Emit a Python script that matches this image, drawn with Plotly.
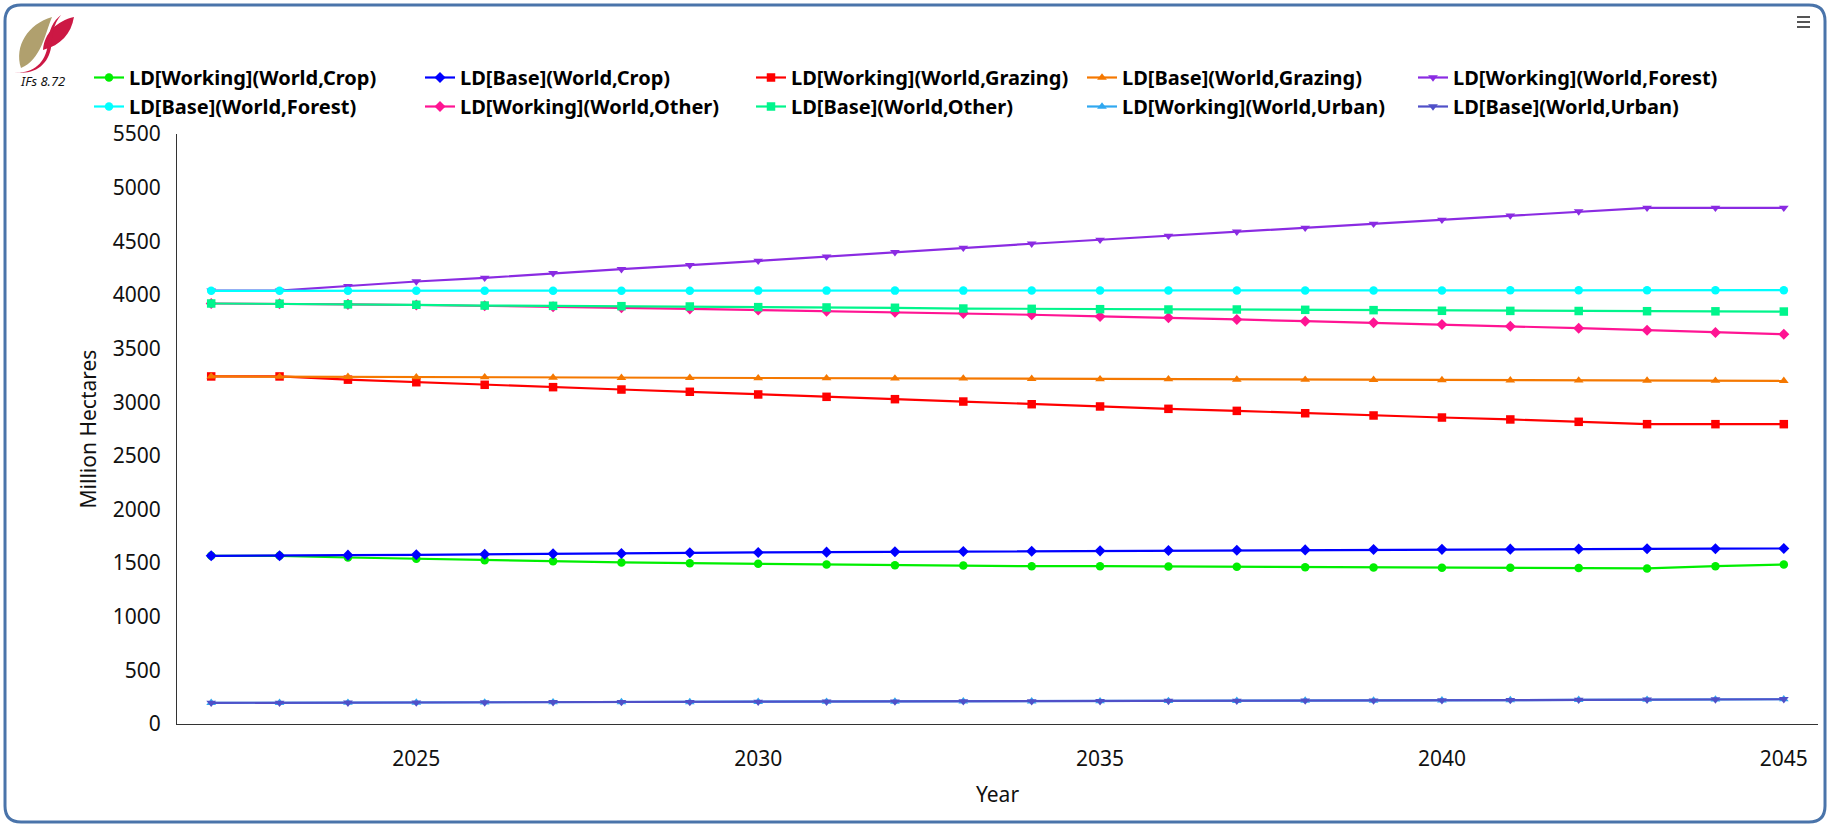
import plotly.graph_objects as go

# years on the x axis
years = [2022, 2023, 2024, 2025, 2026, 2027, 2028, 2029, 2030, 2031, 2032, 2033,
         2034, 2035, 2036, 2037, 2038, 2039, 2040, 2041, 2042, 2043, 2044, 2045]

# land area, million hectares
working_crop = [1568, 1568, 1552, 1540, 1527, 1518, 1506, 1499, 1493, 1487, 1480, 1478,
                1471, 1471, 1468, 1465, 1462, 1459, 1456, 1456, 1455, 1450, 1471, 1487]
base_crop = [1568, 1568, 1574, 1577, 1583, 1587, 1590, 1596, 1599, 1602, 1605, 1608,
             1611, 1614, 1617, 1620, 1623, 1626, 1628, 1630, 1632, 1633, 1634, 1636]
working_grazing = [3240, 3240, 3210, 3186, 3162, 3140, 3118, 3097, 3072, 3050, 3028, 3006,
                   2981, 2960, 2938, 2919, 2897, 2876, 2857, 2839, 2817, 2795, 2795, 2795]
base_grazing = [3240, 3238, 3236, 3233, 3233, 3230, 3227, 3227, 3224, 3224, 3221, 3221,
                3218, 3214, 3214, 3211, 3210, 3208, 3206, 3204, 3203, 3202, 3200, 3199]
working_forest = [4040, 4040, 4083, 4125, 4159, 4203, 4240, 4277, 4318, 4358, 4398, 4439,
                  4477, 4514, 4551, 4589, 4626, 4663, 4700, 4740, 4778, 4812, 4812, 4812]
base_forest = [4038, 4038, 4038, 4039, 4039, 4039, 4039, 4039, 4040, 4040, 4040, 4040,
               4041, 4041, 4041, 4041, 4042, 4042, 4042, 4043, 4043, 4043, 4044, 4044]
working_other = [3920, 3918, 3912, 3906, 3899, 3890, 3880, 3870, 3860, 3849, 3838, 3828,
                 3815, 3799, 3787, 3771, 3755, 3740, 3724, 3708, 3690, 3671, 3650, 3634]
base_other = [3920, 3918, 3912, 3908, 3901, 3898, 3895, 3892, 3886, 3883, 3880, 3873,
              3870, 3867, 3864, 3864, 3861, 3858, 3852, 3851, 3850, 3848, 3847, 3845]
working_urban = [197, 198, 199, 200, 201, 203, 204, 205, 207, 208, 209, 211,
                 212, 213, 215, 216, 218, 219, 221, 223, 225, 227, 229, 231]
base_urban = [197, 198, 199, 200, 201, 203, 204, 205, 207, 208, 209, 211,
              212, 213, 215, 216, 218, 219, 221, 223, 225, 227, 229, 231]

x_ticks = [2025, 2030, 2035, 2040, 2045]
y_ticks = [0, 500, 1000, 1500, 2000, 2500, 3000, 3500, 4000, 4500, 5000, 5500]

series = [
    ("LD[Working](World,Crop)", working_crop, "#00ee00", "circle"),
    ("LD[Base](World,Crop)", base_crop, "#0000ff", "diamond"),
    ("LD[Working](World,Grazing)", working_grazing, "#ff0000", "square"),
    ("LD[Base](World,Grazing)", base_grazing, "#f57800", "triangle-up"),
    ("LD[Working](World,Forest)", working_forest, "#8a2be2", "triangle-down"),
    ("LD[Base](World,Forest)", base_forest, "#00ffff", "circle"),
    ("LD[Working](World,Other)", working_other, "#ff1493", "diamond"),
    ("LD[Base](World,Other)", base_other, "#00f58c", "square"),
    ("LD[Working](World,Urban)", working_urban, "#30a8f0", "triangle-up"),
    ("LD[Base](World,Urban)", base_urban, "#5050c8", "triangle-down"),
]

W, H = 1830, 826
L, R, T, B = 177, 1818, 134, 724


def px(x):
    return (x - L) / (R - L)


def py(y):
    return (B - y) / (B - T)


def path(cmds):
    out = []
    for c in cmds:
        if isinstance(c, str):
            out.append(c)
        else:
            out.append(f"{px(c[0]):.5f},{py(c[1]):.5f}")
    return " ".join(out)


fig = go.Figure()

for name, vals, color, sym in series:
    fig.add_trace(go.Scatter(
        x=years, y=vals, name=name, mode="lines+markers",
        line=dict(color=color, width=2.2),
        marker=dict(color=color, symbol=sym, size=8.5),
    ))

shapes = []
# rounded frame around the whole chart
r = 16
x0, y0, x1, y1 = 5, 5, 1825, 822
frame = path(["M", (x0 + r, y0), "L", (x1 - r, y0), "Q", (x1, y0), (x1, y0 + r),
              "L", (x1, y1 - r), "Q", (x1, y1), (x1 - r, y1),
              "L", (x0 + r, y1), "Q", (x0, y1), (x0, y1 - r),
              "L", (x0, y0 + r), "Q", (x0, y0), (x0 + r, y0), "Z"])
shapes.append(dict(type="path", xref="paper", yref="paper", path=frame,
                   line=dict(color="#4a74aa", width=3), layer="below"))

# IFs logo leaves
tan_leaf = path(["M", (21, 68), "C", (14, 46), (28, 24), (52, 17),
                 "C", (45, 34), (41, 60), (21, 68), "Z"])
red_leaf = path(["M", (43, 50), "C", (44, 33), (57, 21), (74, 17),
                 "C", (71, 34), (61, 45), (43, 50), "Z"])
red_swoosh = path(["M", (14, 72), "C", (34, 75), (47, 61), (48, 42),
                   "C", (49, 30), (53, 21), (61, 15),
                   "C", (53, 25), (52.5, 34), (51.5, 44),
                   "C", (50, 63), (36, 76), (14, 72), "Z"])
shapes.append(dict(type="path", xref="paper", yref="paper", path=tan_leaf,
                   fillcolor="#b0a06e", line=dict(width=0)))
shapes.append(dict(type="path", xref="paper", yref="paper", path=red_leaf,
                   fillcolor="#cc1844", line=dict(width=0)))
shapes.append(dict(type="path", xref="paper", yref="paper", path=red_swoosh,
                   fillcolor="#cc1844", line=dict(width=0)))

# menu icon top right
for yy in (17, 22, 27):
    shapes.append(dict(type="line", xref="paper", yref="paper",
                       x0=px(1797), x1=px(1810), y0=py(yy), y1=py(yy),
                       line=dict(color="#555555", width=2)))

fig.update_layout(
    width=W, height=H,
    margin=dict(l=L, r=W - R, t=T, b=H - B),
    plot_bgcolor="white", paper_bgcolor="white",
    font=dict(family="Noto Sans, Open Sans, sans-serif", size=21, color="#111111"),
    showlegend=True,
    legend=dict(
        orientation="h", x=px(89), y=py(58), xanchor="left", yanchor="top",
        entrywidth=286, entrywidthmode="pixels", itemwidth=30,
        font=dict(family="Noto Sans, sans-serif", size=20, color="#000000", weight="bold"),
        bgcolor="rgba(0,0,0,0)", tracegroupgap=0,
    ),
    xaxis=dict(
        range=[2021.5, 2045.5], tickvals=x_ticks, showgrid=False, zeroline=False,
        showline=True, linecolor="#333333", linewidth=1, ticks="",
        ticklabelstandoff=16,
        title=dict(text="Year", standoff=16, font=dict(size=21)),
    ),
    yaxis=dict(
        range=[0, 5500], tickvals=y_ticks, showgrid=False, zeroline=False,
        showline=True, linecolor="#333333", linewidth=1, ticks="",
        ticklabelstandoff=11,
        title=dict(text="Million Hectares", standoff=10, font=dict(size=21)),
    ),
    shapes=shapes,
    annotations=[dict(text="<i>IFs 8.72</i>", xref="paper", yref="paper",
                      x=px(18), y=py(81), xanchor="left", yanchor="middle",
                      showarrow=False,
                      font=dict(size=13, color="#111111", family="Noto Sans"))],
)

fig.write_html("out.html", config={"displayModeBar": False},
               post_script="document.body.style.margin='0';document.body.style.overflow='hidden';")
